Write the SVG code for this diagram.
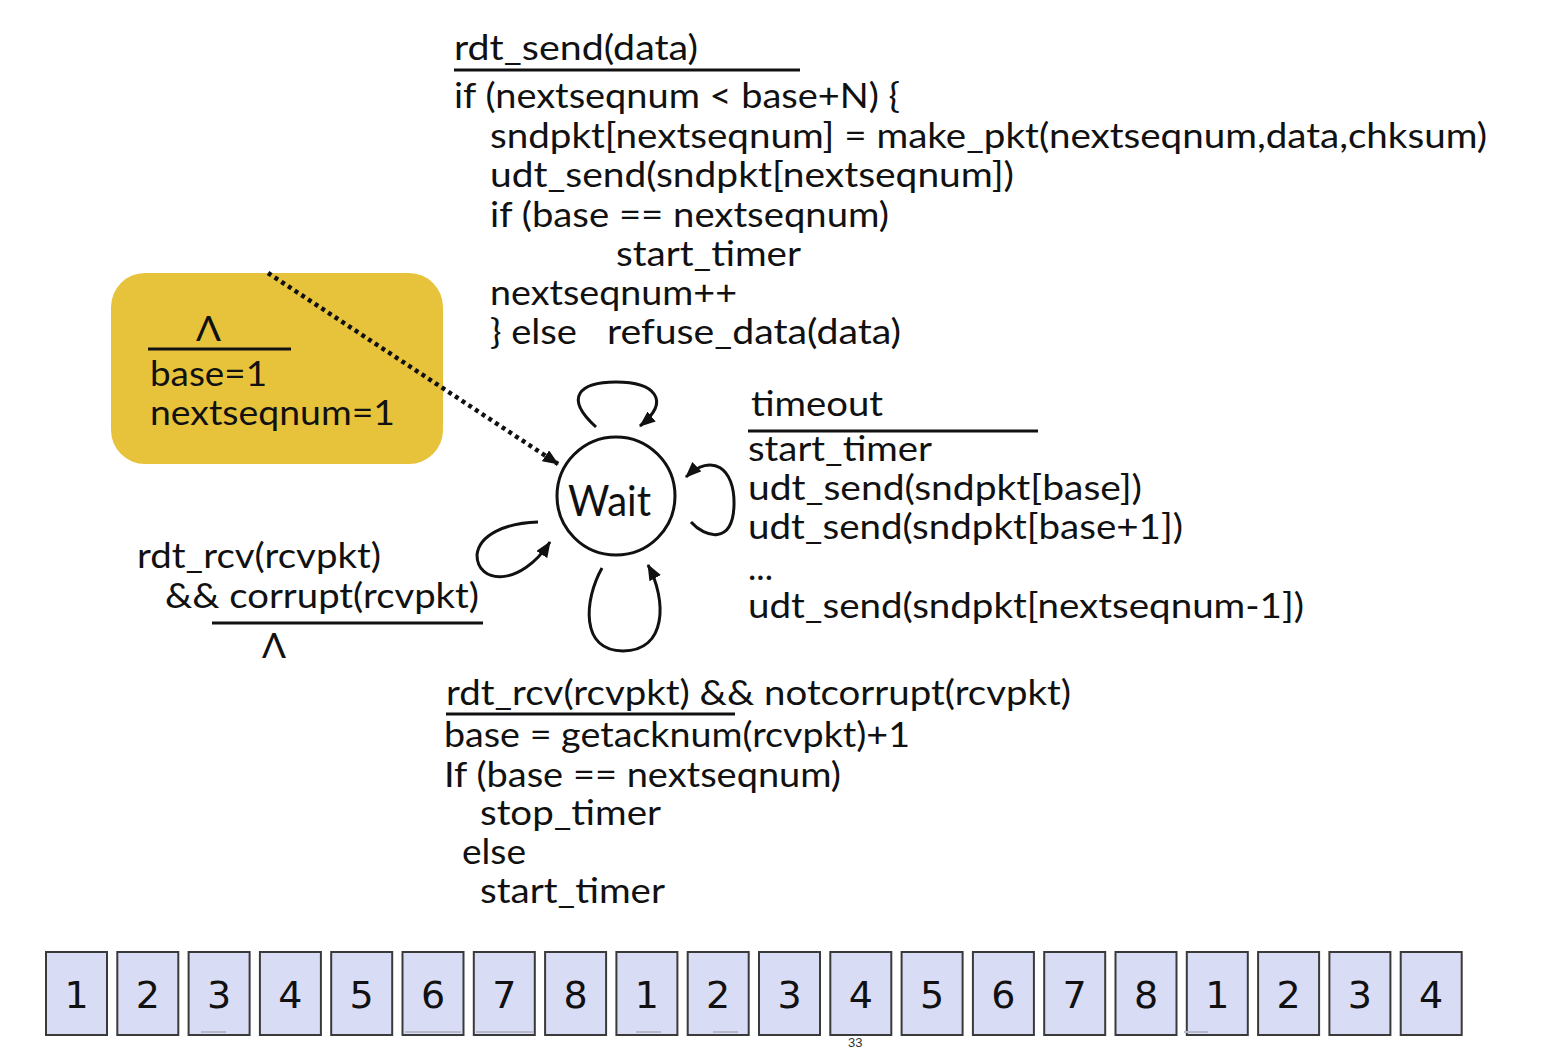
<svg xmlns="http://www.w3.org/2000/svg" width="1564" height="1048" viewBox="0 0 1564 1048">
<style>
.t{font-family:Lato,"Open Sans","Liberation Sans",sans-serif;font-size:35px;fill:#111}
.rule{stroke:#111;stroke-width:3}
.loop{fill:none;stroke:#111;stroke-width:3}
.box{fill:#D9DCF5;stroke:#3a3a3a;stroke-width:2}
.num{font-family:"DejaVu Sans",Verdana,sans-serif;font-size:38px;fill:#111;text-anchor:middle}
.faint{stroke:#b8b8c8;stroke-width:2}
</style>
<defs>
<marker id="ah" viewBox="0 0 16 13" refX="15" refY="6.5" markerWidth="16" markerHeight="13" markerUnits="userSpaceOnUse" orient="auto">
<path d="M0,0 L16,6.5 L0,13 Z" fill="#111"/>
</marker>
</defs>
<rect width="1564" height="1048" fill="#fff"/>

<g id="init">
<rect x="111" y="273" width="332" height="191" rx="34" fill="#E7C33B"/>
<text class="t" x="196" y="341" textLength="25" lengthAdjust="spacingAndGlyphs">Λ</text>
<line class="rule" x1="148" y1="349" x2="291" y2="349"/>
<text class="t" x="150" y="386" textLength="117" lengthAdjust="spacingAndGlyphs">base=1</text>
<text class="t" x="150" y="425" textLength="245" lengthAdjust="spacingAndGlyphs">nextseqnum=1</text>
</g>

<g id="wait">
<circle cx="616" cy="496" r="59" fill="#fff" stroke="#111" stroke-width="3"/>
<text class="t" x="568" y="516" style="font-size:42px" textLength="83" lengthAdjust="spacingAndGlyphs">Wait</text>
</g>

<g id="connectors">
<line x1="268" y1="273" x2="558" y2="464" stroke="#111" stroke-width="4.5" stroke-dasharray="4 4" marker-end="url(#ah)"/>
<path class="loop" d="M596 427 C563 397 580 382 616 382 C654 382 672 400 640 426" marker-end="url(#ah)"/>
<path class="loop" d="M691 522 C705 538 733 545 734 505 C735 468 712 452 686 477" marker-end="url(#ah)"/>
<path class="loop" d="M538 522 C505 523 479 535 477 555 C477 584 520 588 550 542" marker-end="url(#ah)"/>
<path class="loop" d="M602 568 C584 600 580 651 623 651 C667 651 667 600 648 565" marker-end="url(#ah)"/>
</g>

<g id="label-send">
<text class="t" x="454" y="60" textLength="244" lengthAdjust="spacingAndGlyphs">rdt_send(data)</text>
<line class="rule" x1="454" y1="70" x2="800" y2="70"/>
<text class="t" x="454" y="108" textLength="446" lengthAdjust="spacingAndGlyphs">if (nextseqnum &lt; base+N) {</text>
<text class="t" x="490" y="148" textLength="997" lengthAdjust="spacingAndGlyphs">sndpkt[nextseqnum] = make_pkt(nextseqnum,data,chksum)</text>
<text class="t" x="490" y="187" textLength="524" lengthAdjust="spacingAndGlyphs">udt_send(sndpkt[nextseqnum])</text>
<text class="t" x="490" y="227" textLength="399" lengthAdjust="spacingAndGlyphs">if (base == nextseqnum)</text>
<text class="t" x="616" y="266" textLength="185" lengthAdjust="spacingAndGlyphs">start_timer</text>
<text class="t" x="490" y="305" textLength="247" lengthAdjust="spacingAndGlyphs">nextseqnum++</text>
<text class="t" x="490" y="344" textLength="87" lengthAdjust="spacingAndGlyphs">} else</text>
<text class="t" x="607" y="344" textLength="294" lengthAdjust="spacingAndGlyphs">refuse_data(data)</text>
</g>

<g id="label-timeout">
<text class="t" x="751" y="416" textLength="132" lengthAdjust="spacingAndGlyphs">timeout</text>
<line class="rule" x1="748" y1="431" x2="1038" y2="431"/>
<text class="t" x="748" y="461" textLength="184" lengthAdjust="spacingAndGlyphs">start_timer</text>
<text class="t" x="748" y="500" textLength="394" lengthAdjust="spacingAndGlyphs">udt_send(sndpkt[base])</text>
<text class="t" x="748" y="539" textLength="435" lengthAdjust="spacingAndGlyphs">udt_send(sndpkt[base+1])</text>
<text class="t" x="748" y="580" textLength="25" lengthAdjust="spacingAndGlyphs">...</text>
<text class="t" x="748" y="618" textLength="556" lengthAdjust="spacingAndGlyphs">udt_send(sndpkt[nextseqnum-1])</text>
</g>

<g id="label-corrupt">
<text class="t" x="137" y="568" textLength="244" lengthAdjust="spacingAndGlyphs">rdt_rcv(rcvpkt)</text>
<text class="t" x="165" y="608" textLength="314" lengthAdjust="spacingAndGlyphs">&amp;&amp; corrupt(rcvpkt)</text>
<line class="rule" x1="212" y1="623" x2="483" y2="623"/>
<text class="t" x="262" y="658" textLength="24" lengthAdjust="spacingAndGlyphs">Λ</text>
</g>

<g id="label-ack">
<text class="t" x="446" y="705" textLength="625" lengthAdjust="spacingAndGlyphs">rdt_rcv(rcvpkt) &amp;&amp; notcorrupt(rcvpkt)</text>
<line class="rule" x1="446" y1="714" x2="735" y2="714"/>
<text class="t" x="444" y="747" textLength="466" lengthAdjust="spacingAndGlyphs">base = getacknum(rcvpkt)+1</text>
<text class="t" x="444" y="787" textLength="397" lengthAdjust="spacingAndGlyphs">If (base == nextseqnum)</text>
<text class="t" x="480" y="825" textLength="181" lengthAdjust="spacingAndGlyphs">stop_timer</text>
<text class="t" x="462" y="864" textLength="64" lengthAdjust="spacingAndGlyphs">else</text>
<text class="t" x="480" y="903" textLength="185" lengthAdjust="spacingAndGlyphs">start_timer</text>
</g>

<g id="seq-boxes">
<rect class="box" x="46" y="952" width="61" height="83"/><text class="num" x="76.5" y="1008">1</text>
<rect class="box" x="117.3" y="952" width="61" height="83"/><text class="num" x="147.8" y="1008">2</text>
<rect class="box" x="188.6" y="952" width="61" height="83"/><text class="num" x="219.1" y="1008">3</text>
<rect class="box" x="259.9" y="952" width="61" height="83"/><text class="num" x="290.4" y="1008">4</text>
<rect class="box" x="331.2" y="952" width="61" height="83"/><text class="num" x="361.7" y="1008">5</text>
<rect class="box" x="402.5" y="952" width="61" height="83"/><text class="num" x="433" y="1008">6</text>
<rect class="box" x="473.8" y="952" width="61" height="83"/><text class="num" x="504.3" y="1008">7</text>
<rect class="box" x="545.1" y="952" width="61" height="83"/><text class="num" x="575.6" y="1008">8</text>
<rect class="box" x="616.4" y="952" width="61" height="83"/><text class="num" x="646.9" y="1008">1</text>
<rect class="box" x="687.7" y="952" width="61" height="83"/><text class="num" x="718.2" y="1008">2</text>
<rect class="box" x="759" y="952" width="61" height="83"/><text class="num" x="789.5" y="1008">3</text>
<rect class="box" x="830.3" y="952" width="61" height="83"/><text class="num" x="860.8" y="1008">4</text>
<rect class="box" x="901.6" y="952" width="61" height="83"/><text class="num" x="932.1" y="1008">5</text>
<rect class="box" x="972.9" y="952" width="61" height="83"/><text class="num" x="1003.4" y="1008">6</text>
<rect class="box" x="1044.2" y="952" width="61" height="83"/><text class="num" x="1074.7" y="1008">7</text>
<rect class="box" x="1115.5" y="952" width="61" height="83"/><text class="num" x="1146" y="1008">8</text>
<rect class="box" x="1186.8" y="952" width="61" height="83"/><text class="num" x="1217.3" y="1008">1</text>
<rect class="box" x="1258.1" y="952" width="61" height="83"/><text class="num" x="1288.6" y="1008">2</text>
<rect class="box" x="1329.4" y="952" width="61" height="83"/><text class="num" x="1359.9" y="1008">3</text>
<rect class="box" x="1400.7" y="952" width="61" height="83"/><text class="num" x="1431.2" y="1008">4</text>
<line class="faint" x1="201" y1="1032" x2="226" y2="1032"/>
<line class="faint" x1="405" y1="1032" x2="461" y2="1032"/>
<line class="faint" x1="476" y1="1032" x2="534" y2="1032"/>
<line class="faint" x1="636" y1="1032" x2="661" y2="1032"/>
<line class="faint" x1="713" y1="1032" x2="738" y2="1032"/>
<line class="faint" x1="1184" y1="1032" x2="1208" y2="1032"/>
</g>
<text x="848" y="1047" style="font-family:'Liberation Sans',sans-serif;font-size:13px;fill:#333">33</text>
</svg>
